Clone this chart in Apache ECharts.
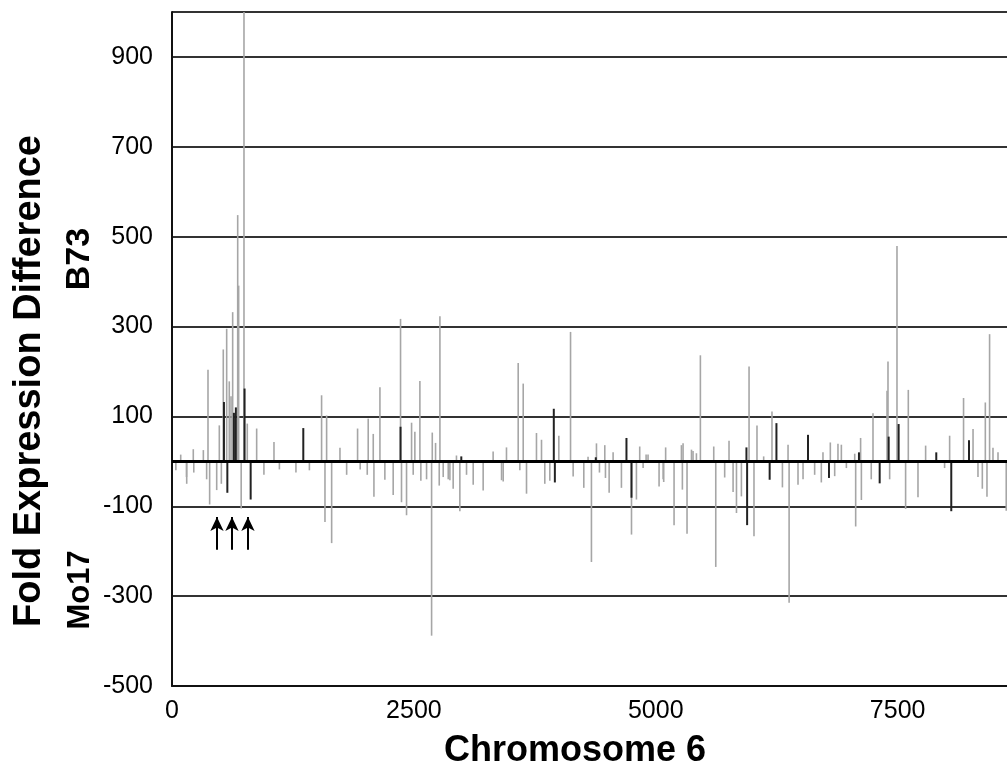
<!DOCTYPE html>
<html>
<head>
<meta charset="utf-8">
<script src="https://cdn.jsdelivr.net/npm/echarts@6/dist/echarts.min.js"></script>
<style>html,body{margin:0;padding:0;background:#fff;}#c{width:1007px;height:773px;}</style>
</head>
<body>
<div id="c"></div>
<script>
// Position along chromosome 6 and fold expression difference (B73 positive, Mo17 negative)
const grayPos = [40,90,150,152,220,225,324,358,372,389,462,489,510,530,565,592,610,627,679,689,715,744,778,875,950,1054,1110,1281,1420,1546,1581,1598,1650,1736,1805,1918,1945,2018,2028,2080,2087,2149,
2200,2286,2362,2372,2424,2476,2493,2510,2562,2572,2631,2683,2690,2724,2762,2769,2803,2855,2872,2906,2940,2975,3044,3113,3216,3319,3406,3423,3457,3578,3595,3630,3664,3767,3819,3853,3905,3998,4119,4146,4256,4300,
4335,4387,4418,4473,4480,4518,4559,4645,4749,4800,4834,4869,4900,4920,5034,5076,5082,5102,5189,5265,5275,5282,5323,5369,5385,5420,5461,5599,5620,5712,5757,5799,5834,5885,5964,6015,6046,6115,6201,6309,6367,6378,6470,
6522,6642,6711,6728,6804,6849,6883,6918,6970,7056,7066,7117,7125,7227,7245,7390,7400,7417,7493,7582,7610,7710,7789,7985,8037,8181,8279,8330,8375,8406,8423,8450,8485,8537,8622];
const grayVal = [-20,15,-35,-50,27,-25,25,-40,204,-96,-64,80,-50,249,295,178,145,332,548,391,-105,1000,84,73,-30,43,-18,-25,-20,147,-135,102,-182,30,-30,73,-18,-30,95,61,-79,165,
-41,-75,317,-91,-120,86,-30,66,179,-43,-40,-388,64,41,-54,323,-35,-40,-42,-61,13,-111,-30,-52,-65,22,-42,-45,31,219,-20,173,-72,63,48,-50,-43,57,288,-34,-59,10,
-224,40,-25,36,-37,-70,20,-59,-163,-85,33,-15,15,15,-56,-40,-46,31,-142,36,-63,40,-161,26,23,18,236,33,-235,-36,46,-68,-115,-78,211,-167,80,11,111,-58,37,-315,-52,
-40,-30,-47,20,42,-33,39,37,-15,17,-145,52,-86,-40,107,157,222,-40,479,-106,159,-80,35,-15,57,141,72,-35,-61,131,-79,283,30,20,-110];
const darkPos = [537,572,640,660,750,813,1357,2362,2990,3946,3957,4380,4697,4749,5937,5944,6177,6247,6573,6790,7100,7314,7407,7510,7899,8054,8237];
const darkVal = [132,-70,108,120,162,-85,74,77,11,117,-47,9,52,-81,31,-142,-41,85,59,-37,20,-49,55,83,20,-111,47];
const arrowPos = [465,620,785];
const yTicks = [-500,-300,-100,100,300,500,700,900];
const xTicks = [0,2500,5000,7500];

function pairs(p, v){ return p.map((x,i)=>[x, v[i]]); }
function stick(color, width){
  return function(params, api){
    const x = api.value(0), y = api.value(1);
    const a = api.coord([x, 0]), b = api.coord([x, y]);
    return {type:'line', shape:{x1:a[0], y1:a[1], x2:b[0], y2:b[1]}, style:{stroke:color, lineWidth:width}};
  };
}

const chart = echarts.init(document.getElementById('c'));
chart.setOption({
  animation:false,
  backgroundColor:'#fff',
  grid:{left:172, top:12, right:0, bottom:87, show:false},
  xAxis:{type:'value', min:0, max:8630, interval:2500,
    axisLine:{show:true, onZero:false, lineStyle:{color:'#111', width:2}},
    axisTick:{show:false}, splitLine:{show:false},
    axisLabel:{color:'#000', fontSize:25, fontFamily:'Liberation Sans, Arial', margin:13, showMaxLabel:false,
      formatter:v=> xTicks.includes(v) ? String(v) : ''}},
  yAxis:{type:'value', min:-500, max:1000, interval:200,
    axisLine:{show:true, lineStyle:{color:'#111', width:2}},
    axisTick:{show:false},
    splitLine:{show:true, lineStyle:{color:'#333', width:2}},
    axisLabel:{color:'#000', fontSize:25, fontFamily:'Liberation Sans, Arial', margin:19, showMaxLabel:false,
      formatter:v=> yTicks.includes(v) ? String(v) : ''}},
  graphic:[
    {type:'text', x:30, y:381, rotation:Math.PI/2, style:{text:'Fold Expression Difference', font:'bold 38px "Liberation Sans", Arial', fill:'#000', align:'center', verticalAlign:'middle'}},
    {type:'text', x:80, y:259, rotation:Math.PI/2, style:{text:'B73', font:'bold 34px "Liberation Sans", Arial', fill:'#000', align:'center', verticalAlign:'middle'}},
    {type:'text', x:80, y:590, rotation:Math.PI/2, style:{text:'Mo17', font:'bold 31px "Liberation Sans", Arial', fill:'#000', align:'center', verticalAlign:'middle'}},
    {type:'text', x:575, y:751, style:{text:'Chromosome 6', font:'bold 36px "Liberation Sans", Arial', fill:'#000', align:'center', verticalAlign:'middle'}}
  ],
  series:[
    {type:'custom', name:'gray', clip:true, renderItem:stick('#a6a6a6', 1.6), data:pairs(grayPos, grayVal), z:2},
    {type:'custom', name:'dark', clip:true, renderItem:stick('#222', 2), data:pairs(darkPos, darkVal), z:3,
      markLine:{silent:true, symbol:'none', animation:false, label:{show:false},
        lineStyle:{color:'#000', width:3, type:'solid'}, data:[{yAxis:0}]}},
    {type:'line', name:'arrows', data:[], markLine:{silent:true, animation:false, symbol:['none','arrow'], symbolSize:[10,14], label:{show:false},
      lineStyle:{color:'#000', width:2, type:'solid'},
      data: arrowPos.map(p=>[{coord:[p,-197]},{coord:[p,-124]}])}}
  ]
});
</script>
</body>
</html>
